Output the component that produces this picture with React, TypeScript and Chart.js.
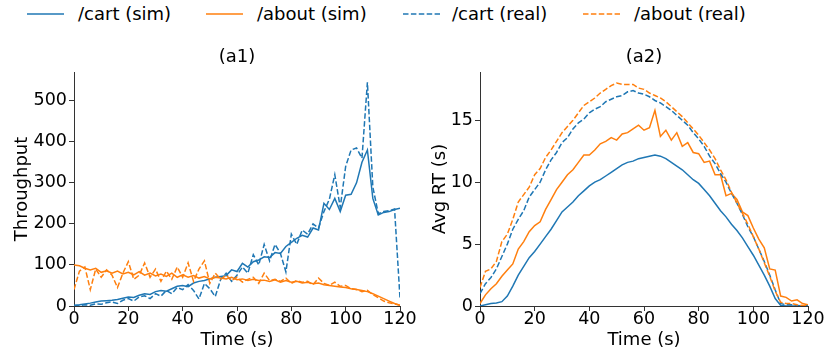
import React, { useEffect, useRef } from "react";
import { Chart, registerables } from "chart.js";
Chart.register(...registerables);

const TIME = [0,2,4,6,8,10,12,14,16,18,20,22,24,26,28,30,32,34,36,38,40,42,44,46,48,50,52,54,56,58,60,62,64,66,68,70,72,74,76,78,80,82,84,86,88,90,92,94,96,98,100,102,104,106,108,110,112,114,116,118,120];

const CART_SIM_THR = [2,3,5,7,10,12,13,14,16,19,22,21,26,30,28,35,38,36,42,48,50,47,56,60,62,66,70,72,74,88,84,104,95,108,112,120,118,130,128,145,155,165,172,168,190,185,250,235,262,230,270,272,300,350,380,262,222,228,230,235,238];
const ABOUT_SIM_THR = [100,98,92,88,92,82,86,80,85,78,82,76,84,75,80,73,78,72,80,70,76,70,74,68,72,66,70,68,66,70,64,66,62,65,62,63,60,64,58,62,58,60,56,58,54,56,52,50,48,46,45,42,40,38,35,30,24,18,12,6,2];
const CART_REAL_THR = [0,1,3,2,5,4,8,10,6,14,18,12,22,25,18,30,24,38,30,45,40,52,38,17,55,42,23,65,80,60,75,95,80,125,100,150,110,150,128,83,175,150,185,175,200,190,230,260,320,240,340,380,385,360,545,290,225,230,232,236,19];
const ABOUT_REAL_THR = [40,85,95,40,90,70,88,75,45,80,108,65,75,105,70,90,60,85,65,95,70,105,60,90,110,55,80,65,75,62,70,58,65,70,55,80,62,65,60,68,55,62,58,60,52,68,55,50,58,48,50,42,40,35,38,28,20,12,8,5,2];

const CART_SIM_RT = [0,0.1,0.2,0.25,0.35,0.8,1.6,2.5,3.2,3.9,4.4,5.0,5.6,6.2,6.9,7.6,8.0,8.4,8.9,9.3,9.7,10.0,10.2,10.5,10.8,11.1,11.4,11.6,11.7,11.9,12.0,12.1,12.2,12.1,11.9,11.6,11.3,11.0,10.6,10.2,9.9,9.4,8.9,8.3,7.7,7.2,6.6,6.1,5.5,4.8,4.1,3.3,2.5,1.6,0.6,0.05,0,0,0,0,0];
const ABOUT_SIM_RT = [0.2,0.9,1.4,1.8,2.4,2.9,3.4,4.6,5.2,6.0,6.5,6.8,7.8,8.6,9.4,10.0,10.6,11.0,11.6,12.2,12.2,12.6,13.1,13.3,13.6,13.4,13.9,14.0,14.3,14.6,14.2,14.4,15.8,13.7,14.2,13.4,14.0,12.9,13.2,12.4,12.3,11.6,11.7,10.6,10.6,8.9,9.1,8.6,7.6,7.3,6.3,5.4,4.7,3.0,2.9,0.8,0.7,0.4,0.5,0.2,0.1];
const CART_REAL_RT = [1.0,1.8,2.3,3.0,4.0,5.0,6.2,7.0,7.7,8.8,9.4,10.0,11.0,11.8,12.4,13.2,13.6,14.3,14.8,15.1,15.6,15.9,16.1,16.5,16.7,16.9,17.0,17.3,17.4,17.2,17.1,16.9,16.6,16.4,16.1,15.8,15.4,15.0,14.6,14.0,13.5,12.9,12.1,11.5,10.7,10.0,9.1,8.3,7.4,6.4,5.6,4.6,3.6,2.5,1.3,0.2,0.1,0.1,0.05,0,0];
const ABOUT_REAL_RT = [1.5,2.8,3.0,3.6,5.2,5.8,7.0,8.4,9.0,9.6,10.6,11.1,12.0,12.6,13.3,14.0,14.5,15.0,15.6,16.2,16.5,16.8,17.2,17.5,17.8,18.0,17.9,17.9,17.9,17.6,17.5,17.2,17.0,16.8,16.5,16.1,15.7,15.3,14.8,14.3,13.8,13.2,12.6,11.9,11.0,10.2,9.2,8.3,7.5,6.6,5.6,4.6,3.5,2.4,1.2,0.3,0.2,0.2,0.1,0.05,0];

const X_TICKS = [0,20,40,60,80,100,120];
const THR_TICKS = [0,100,200,300,400,500];
const RT_TICKS = [0,5,10,15];

const LEGEND_LABELS = ["/cart (sim)", "/about (sim)", "/cart (real)", "/about (real)"];

const FONT = "'DejaVu Sans', sans-serif";
const BLUE = "#1f77b4";
const ORANGE = "#ff7f0e";
const DASH = [5.5, 2.4];
const AXIS = "#333";
const TICK_SIZE = 17.5;
const LABEL_SIZE = 18;

function pts(ys: number[]) {
  return TIME.map((t, i) => ({ x: t, y: ys[i] }));
}

function buildConfig(opts: {
  title: string;
  yTitle: string;
  yMax: number;
  yTicks: number[];
  series: number[][];
  yWidth: number;
  padRight: number;
  yTitlePad: number;
}): any {
  const styles = [
    { c: BLUE, d: [] as number[] },
    { c: ORANGE, d: [] as number[] },
    { c: BLUE, d: DASH },
    { c: ORANGE, d: DASH },
  ];
  return {
    type: "line",
    data: {
      datasets: opts.series.map((s, i) => ({
        label: LEGEND_LABELS[i],
        data: pts(s),
        borderColor: styles[i].c,
        borderDash: styles[i].d,
        borderWidth: 1.5,
        pointRadius: 0,
        fill: false,
        tension: 0,
        order: 4 - i,
      })),
    },
    options: {
      animation: false,
      responsive: false,
      maintainAspectRatio: false,
      layout: { padding: { left: 0, right: opts.padRight, top: 0, bottom: 0 } },
      plugins: {
        legend: { display: false },
        tooltip: { enabled: false },
        title: {
          display: true,
          text: opts.title,
          fullSize: false,
          color: "#000",
          font: { family: FONT, size: LABEL_SIZE, weight: "normal", lineHeight: 1.2 },
          padding: { top: 2.6, bottom: 3.8 },
        },
      },
      scales: {
        x: {
          type: "linear",
          min: 0,
          max: 120,
          afterBuildTicks: (s: any) => {
            s.ticks = X_TICKS.map((v) => ({ value: v }));
          },
          afterFit: (s: any) => {
            s.height = 48;
            s.paddingLeft = 0;
            s.paddingRight = 0;
          },
          grid: { display: true, drawOnChartArea: false, drawTicks: true, tickLength: 5, color: AXIS, lineWidth: 1 },
          border: { display: true, color: AXIS, width: 1 },
          ticks: { color: "#000", font: { family: FONT, size: TICK_SIZE }, padding: -2, maxRotation: 0, autoSkip: false },
          title: {
            display: true,
            text: "Time (s)",
            color: "#000",
            font: { family: FONT, size: LABEL_SIZE },
            padding: { top: 0, bottom: 2.5 },
          },
        },
        y: {
          type: "linear",
          min: 0,
          max: opts.yMax,
          afterBuildTicks: (s: any) => {
            s.ticks = opts.yTicks.map((v) => ({ value: v }));
          },
          afterFit: (s: any) => {
            s.width = opts.yWidth;
            s.paddingTop = 0;
            s.paddingBottom = 0;
          },
          grid: { display: true, drawOnChartArea: false, drawTicks: true, tickLength: 5, color: AXIS, lineWidth: 1 },
          border: { display: true, color: AXIS, width: 1 },
          ticks: { color: "#000", font: { family: FONT, size: TICK_SIZE }, padding: 2, autoSkip: false },
          title: {
            display: true,
            text: opts.yTitle,
            color: "#000",
            font: { family: FONT, size: LABEL_SIZE },
            padding: { top: opts.yTitlePad, bottom: 0 },
          },
        },
      },
    },
  };
}

function ChartCanvas(props: { config: any; left: number; top: number; width: number; height: number }) {
  const ref = useRef<HTMLCanvasElement | null>(null);
  useEffect(() => {
    if (!ref.current) return;
    const chart = new Chart(ref.current, props.config);
    return () => chart.destroy();
  }, []);
  return (
    <canvas
      ref={ref}
      width={props.width}
      height={props.height}
      style={{ position: "absolute", left: props.left, top: props.top, width: props.width, height: props.height }}
    />
  );
}

const LEGEND_POS = [
  { x1: 27, x2: 64, tx: 78, color: BLUE, dashed: false },
  { x1: 206, x2: 243, tx: 257, color: ORANGE, dashed: false },
  { x1: 403, x2: 440, tx: 452, color: BLUE, dashed: true },
  { x1: 583, x2: 620, tx: 634, color: ORANGE, dashed: true },
];

export default function App() {
  const cfg1 = buildConfig({
    title: "(a1)",
    yTitle: "Throughput",
    yMax: 570,
    yTicks: THR_TICKS,
    series: [CART_SIM_THR, ABOUT_SIM_THR, CART_REAL_THR, ABOUT_REAL_THR],
    yWidth: 74,
    padRight: 25,
    yTitlePad: 11.5,
  });
  const cfg2 = buildConfig({
    title: "(a2)",
    yTitle: "Avg RT (s)",
    yMax: 18.9,
    yTicks: RT_TICKS,
    series: [CART_SIM_RT, ABOUT_SIM_RT, CART_REAL_RT, ABOUT_REAL_RT],
    yWidth: 68,
    padRight: 17,
    yTitlePad: 17.5,
  });
  return (
    <div style={{ position: "fixed", left: 0, top: 0, width: 825, height: 354, background: "#fff", fontFamily: FONT, overflow: "hidden" }}>
      {LEGEND_POS.map((p, i) => (
        <React.Fragment key={i}>
          <svg style={{ position: "absolute", left: p.x1, top: 9, width: p.x2 - p.x1, height: 10 }}>
            <line
              x1={0}
              y1={5}
              x2={p.x2 - p.x1}
              y2={5}
              stroke={p.color}
              strokeWidth={1.5}
              strokeDasharray={p.dashed ? "5.5 2.4" : undefined}
            />
          </svg>
          <span style={{ position: "absolute", left: p.tx, top: 3, fontSize: 18, lineHeight: "22px", color: "#000", whiteSpace: "nowrap" }}>
            {LEGEND_LABELS[i]}
          </span>
        </React.Fragment>
      ))}
      <ChartCanvas config={cfg1} left={0} top={44} width={425} height={310} />
      <ChartCanvas config={cfg2} left={412} top={44} width={413} height={310} />
    </div>
  );
}
